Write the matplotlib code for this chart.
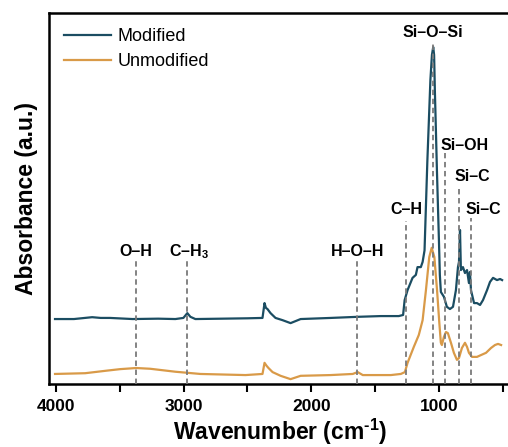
import matplotlib
matplotlib.use("Agg")
import matplotlib.pyplot as plt

plt.rcParams["font.family"] = ["Liberation Sans", "DejaVu Sans"]
plt.rcParams["mathtext.fontset"] = "custom"
plt.rcParams["mathtext.rm"] = "Liberation Sans:bold"
plt.rcParams["mathtext.bf"] = "Liberation Sans:bold"
plt.rcParams["mathtext.it"] = "Liberation Sans:bold"

# FTIR spectra (wavenumber in cm-1, absorbance in a.u.)
mod_wn = [4008, 3860, 3717, 3650, 3576, 3400, 3200, 3065, 3002, 2971, 2947, 2908,
          2700, 2500, 2382, 2366, 2355, 2343, 2319, 2280, 2225, 2162, 2083, 1848,
          1636, 1455, 1314, 1280, 1268, 1245, 1206, 1180, 1167, 1141, 1127, 1112,
          1101, 1090, 1078, 1066, 1054, 1044, 1037, 1031, 1023, 1015, 1007, 999,
          992, 984, 960, 937, 913, 889, 866, 850, 842, 834, 827, 811, 795, 779,
          764, 756, 748, 724, 701, 677, 654, 622, 599, 575, 544, 520, 504]
mod_abs = [0.175, 0.175, 0.180, 0.178, 0.178, 0.175, 0.176, 0.175, 0.178, 0.191, 0.181, 0.175,
           0.176, 0.177, 0.178, 0.218, 0.205, 0.202, 0.191, 0.178, 0.172, 0.164, 0.175, 0.178,
           0.181, 0.183, 0.183, 0.186, 0.226, 0.253, 0.286, 0.294, 0.315, 0.315, 0.329, 0.360,
           0.480, 0.600, 0.710, 0.820, 0.887, 0.908, 0.887, 0.790, 0.685, 0.577, 0.480, 0.385,
           0.294, 0.248, 0.235, 0.208, 0.202, 0.208, 0.253, 0.315, 0.329, 0.415, 0.307, 0.315,
           0.299, 0.307, 0.272, 0.302, 0.253, 0.218, 0.218, 0.213, 0.226, 0.253, 0.275, 0.286,
           0.280, 0.283, 0.280]

unmod_wn = [4008, 3772, 3600, 3497, 3372, 3262, 3065, 2869, 2515, 2382, 2366, 2350,
            2335, 2303, 2240, 2162, 2083, 1848, 1675, 1636, 1596, 1376, 1298, 1266,
            1245, 1196, 1157, 1127, 1101, 1075, 1056, 1035, 1014, 996, 984, 976,
            960, 944, 929, 905, 882, 858, 842, 819, 795, 779, 764, 740, 701, 669,
            630, 591, 560, 536, 512]
unmod_abs = [0.027, 0.029, 0.036, 0.040, 0.043, 0.041, 0.033, 0.027, 0.024, 0.027, 0.057, 0.049,
             0.043, 0.032, 0.022, 0.013, 0.022, 0.024, 0.027, 0.032, 0.024, 0.024, 0.027, 0.032,
             0.057, 0.100, 0.132, 0.172, 0.253, 0.342, 0.367, 0.342, 0.253, 0.164, 0.111, 0.105,
             0.127, 0.140, 0.137, 0.111, 0.084, 0.065, 0.070, 0.097, 0.111, 0.100, 0.084, 0.073,
             0.073, 0.078, 0.084, 0.097, 0.105, 0.108, 0.105]

# band assignments: position, label, top of the marker line
band_wn = [3372, 2971, 1640, 1255, 1045, 955, 840, 748]
band_top = [0.332, 0.332, 0.334, 0.439, 0.922, 0.623, 0.528, 0.447]
band_label = ["O\u2013H", "C\u2013H$_3$", "H\u2013O\u2013H", "C\u2013H",
              "Si\u2013O\u2013Si", "Si\u2013OH", "Si\u2013C", "Si\u2013C"]
label_x = [3372, 2955, 1640, 1255, 1045, 800, 740, 650]
label_y = [0.356, 0.356, 0.356, 0.469, 0.946, 0.642, 0.558, 0.469]

blue = "#1b4d62"
orange = "#d99a48"

fig = plt.figure(figsize=(5.08, 4.47), dpi=100)
ax = fig.add_axes([0.0965, 0.141, 0.91, 0.830])

ax.plot(mod_wn, mod_abs, color=blue, lw=1.6, label="Modified")
ax.plot(unmod_wn, unmod_abs, color=orange, lw=1.6, label="Unmodified")

for wn, top, lab, lx, ly in zip(band_wn, band_top, band_label, label_x, label_y):
    ax.plot([wn, wn], [0, top], color="#7a7a7a", lw=1.3, ls=(0, (3, 2)), zorder=3)
    ax.text(lx, ly, lab, ha="center", va="center", fontsize=11.5, fontweight="bold")

ax.set_xlim(4055, 432)
ax.set_ylim(0, 1)
ax.set_xticks([4000, 3000, 2000, 1000])
ax.set_xticks([3500, 2500, 1500, 500], minor=True)
ax.set_yticks([])
ax.tick_params(axis="x", which="both", direction="out", length=6, width=1.5,
               labelsize=12.5, pad=5)
for lab in ax.get_xticklabels():
    lab.set_fontweight("bold")
for sp in ax.spines.values():
    sp.set_linewidth(1.8)

ax.set_xlabel("Wavenumber (cm$^{\\text{-1}}$)", fontsize=16.5, fontweight="bold", labelpad=2)
ax.set_ylabel("Absorbance (a.u.)", fontsize=16.5, fontweight="bold", labelpad=8)

ax.legend(loc="upper left", frameon=False, fontsize=13, handlelength=2.6,
          handletextpad=0.35, labelspacing=0.45, borderaxespad=0.45,
          bbox_to_anchor=(0.0, 1.0))

fig.savefig("out.png", dpi=100)
